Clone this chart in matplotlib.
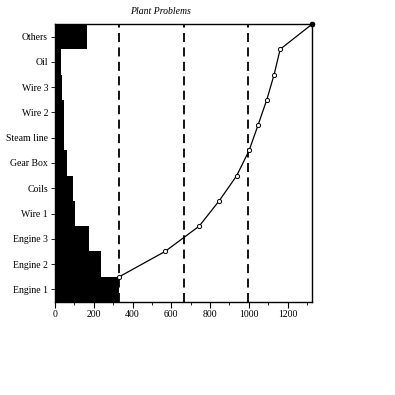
import matplotlib
matplotlib.use("Agg")
import matplotlib.pyplot as plt
import numpy as np

categories = ["Engine 1", "Engine 2", "Engine 3", "Wire 1", "Coils", "Gear Box",
              "Steam line", "Wire 2", "Wire 3", "Oil", "Others"]
counts = [332, 236, 176, 103, 91, 64, 46, 45, 38, 31, 166]
x_ticks = [0, 200, 400, 600, 800, 1000, 1200]

plt.rcParams['font.family'] = ['Liberation Serif', 'DejaVu Serif']

fig = plt.figure(figsize=(3.95, 3.95), dpi=100)
ax = fig.add_axes([55/395, 1-302/395, (312.3-55)/395, (302-24)/395])

y = np.arange(len(categories))
ax.barh(y, counts, height=1.0, color='black', edgecolor='black', linewidth=0)

cum = np.cumsum(counts)
total = cum[-1]
for q in (0.25, 0.5, 0.75):
    ax.axvline(total*q, color='black', linestyle=(0, (5, 3)), linewidth=1.3)

ax.plot(cum, y + 0.5, color='black', linewidth=0.9, marker='o', markersize=3,
        markerfacecolor='white', markeredgecolor='black', markeredgewidth=0.7,
        clip_on=False, zorder=5)
ax.plot(cum[-1], y[-1] + 0.5, marker='o', markersize=3, color='black',
        clip_on=False, zorder=6)

ax.set_xlim(0, total)
ax.set_ylim(-0.5, len(categories) - 0.5)
ax.set_yticks(y)
ax.set_yticklabels(categories, fontsize=7)
ax.set_xticks(x_ticks)
ax.set_xticklabels([str(t) for t in x_ticks], fontsize=7)
ax.set_xticks(np.arange(100, total, 200), minor=True)
ax.tick_params(axis='x', which='major', length=4, width=0.8, pad=2)
ax.tick_params(axis='x', which='minor', length=2, width=0.6)
ax.tick_params(axis='y', length=3, width=0.6, pad=2)
for s in ax.spines.values():
    s.set_linewidth(1.0)

fig.text(160/395, 1-12/395, "Plant Problems", fontsize=7, style='italic',
         ha='center', va='center')

fig.savefig("out.png", dpi=100)
